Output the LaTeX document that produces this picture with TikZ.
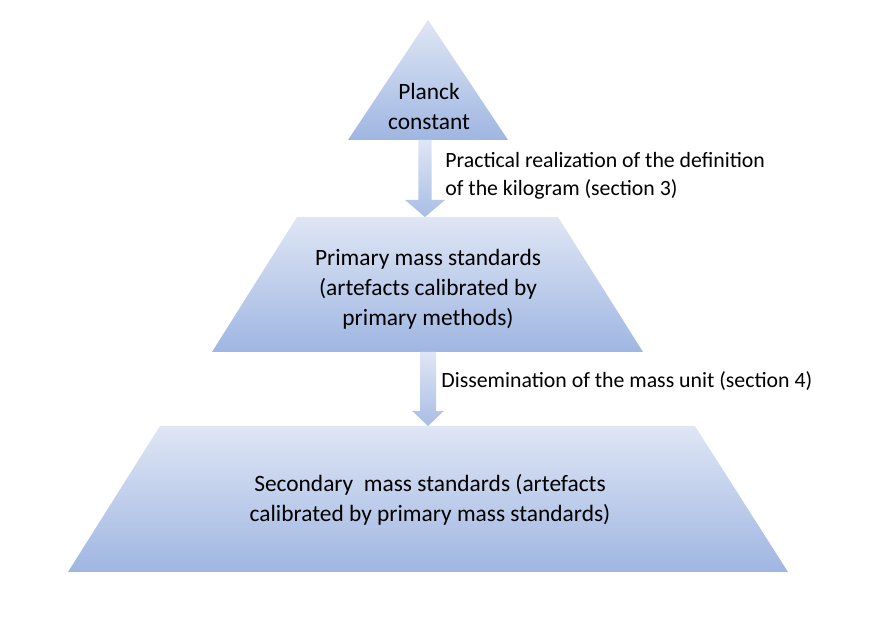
\documentclass[tikz,border=0pt]{standalone}
\usepackage{fontspec}
\setmainfont{Carlito}
\definecolor{pyrtop}{HTML}{DFE6F4}
\definecolor{pyrbot}{HTML}{9FB6E2}
\tikzset{
  level/.style={top color=pyrtop, bottom color=pyrbot},
  arrowfill/.style={top color=pyrtop, bottom color=pyrbot!90!white},
  leveltext/.style={align=center, text=black, inner sep=0pt, font=\fontsize{11.7}{15}\selectfont},
  steplabel/.style={align=left, anchor=west, text=black, inner sep=0pt, font=\fontsize{10.9}{14}\selectfont},
}
\begin{document}
\begin{tikzpicture}[x=0.5pt, y=-0.5pt]
\useasboundingbox (0,0) rectangle (874,624);
% pyramid levels
\shade[level] (428,20) -- (508,140) -- (348,140) -- cycle;
\shade[level] (297,217) -- (558,217) -- (643,352) -- (212,352) -- cycle;
\shade[level] (160,426) -- (695,426) -- (788,572) -- (68,572) -- cycle;
\coordinate (planck base) at (425,140);
\coordinate (primary base) at (428,352);

% block arrows between the levels
\shade[arrowfill, shift={(planck base)}] (-6.7,0) -- (6.7,0) -- (6.7,60) -- (20,60) -- (0,77) -- (-20,60) -- (-6.7,60) -- cycle;
\shade[arrowfill, shift={(primary base)}] (-8,0) -- (8,0) -- (8,59) -- (15.8,59) -- (0,74) -- (-15.8,59) -- (-8,59) -- cycle;

% texts
\node[leveltext] (planck) at (429,106) {Planck\\constant};
\node[leveltext] (primary) at (428,289) {Primary mass standards\\(artefacts calibrated by\\primary methods)};
\node[leveltext] (secondary) at (430,500) {Secondary\ \ mass standards (artefacts\\calibrated by primary mass standards)};
\node[steplabel] (realization) at (445,176) {Practical realization of the definition\\of the kilogram (section 3)};
\node[steplabel] (dissemination) at (441,381) {Dissemination of the mass unit (section 4)};
\end{tikzpicture}
\end{document}
